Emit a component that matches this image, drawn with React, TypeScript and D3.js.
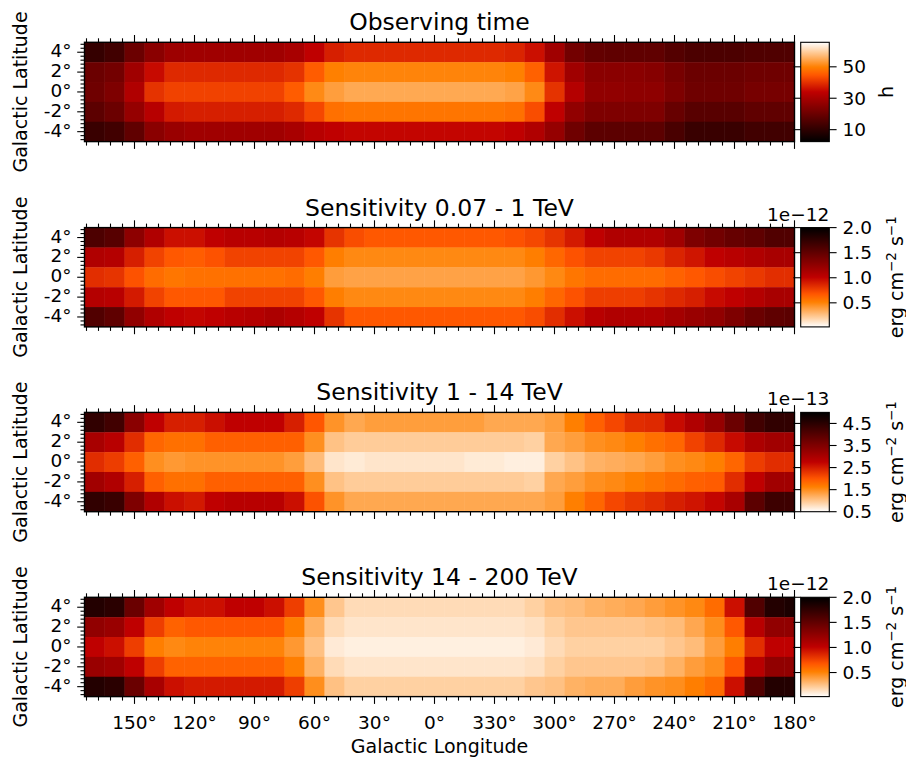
import React from 'react';
import * as d3 from 'd3';

// Cell centres (degrees) of the map
const longitudes = [170, 160, 150, 140, 130, 120, 110, 100, 90, 80, 70, 60, 50, 40, 30, 20, 10, 0, -10, -20, -30, -40, -50, -60, -70, -80, -90, -100, -110, -120, -130, -140, -150, -160, -170, -180];
const latitudes = [4, 2, 0, -2, -4];

const lonTicks = [150, 120, 90, 60, 30, 0, -30, -60, -90, -120, -150, -180];
const latTicks = [4, 2, 0, -2, -4];

// Observing time (h), rows = latitudes
const observingTime = [
  [11.2, 13.1, 20.1, 25.2, 28.3, 28.9, 28.9, 28.9, 28.9, 28.9, 30.2, 34.0, 37.8, 39.1, 39.1, 39.1, 39.1, 39.1, 39.1, 39.1, 39.1, 38.4, 35.9, 28.9, 21.4, 18.8, 18.2, 18.2, 18.2, 16.3, 15.0, 15.0, 15.0, 15.7, 15.7, 15.7],
  [20.1, 21.4, 28.9, 35.3, 39.1, 39.1, 39.1, 39.1, 39.1, 39.1, 40.3, 45.4, 49.8, 50.4, 50.4, 50.4, 50.4, 50.4, 50.4, 50.4, 50.4, 49.8, 46.0, 36.5, 28.9, 25.2, 25.2, 25.2, 24.5, 22.0, 20.1, 20.1, 20.1, 20.7, 20.7, 20.7],
  [20.7, 23.3, 31.5, 40.3, 42.2, 42.2, 42.2, 42.2, 42.2, 42.2, 45.4, 51.1, 53.6, 54.9, 54.9, 54.9, 54.9, 54.9, 54.9, 54.9, 54.9, 54.2, 51.1, 40.3, 32.1, 26.4, 26.4, 25.8, 25.8, 23.3, 20.7, 20.7, 20.7, 22.0, 22.0, 22.0],
  [17.6, 20.1, 27.0, 32.7, 37.2, 37.8, 37.8, 37.8, 37.8, 37.8, 39.1, 42.8, 47.9, 48.5, 48.5, 48.5, 48.5, 48.5, 48.5, 48.5, 48.5, 47.9, 43.5, 34.0, 26.4, 23.3, 23.3, 23.3, 23.3, 19.5, 16.9, 16.9, 16.9, 18.2, 18.2, 18.2],
  [11.9, 13.1, 18.2, 25.2, 27.7, 28.9, 28.9, 28.9, 28.9, 28.9, 30.2, 32.7, 34.0, 34.6, 34.6, 34.6, 34.6, 34.6, 34.6, 34.6, 34.6, 34.0, 31.5, 27.0, 20.7, 17.6, 17.6, 17.6, 17.6, 14.4, 11.9, 11.9, 11.9, 13.1, 13.1, 13.1],
];

// Sensitivity 0.07 - 1 TeV (1e-12 erg cm^-2 s^-1)
const sensLow = [
  [1.60, 1.55, 1.27, 1.09, 0.95, 0.95, 1.01, 1.05, 1.05, 1.07, 1.05, 0.99, 0.81, 0.71, 0.67, 0.67, 0.67, 0.67, 0.67, 0.67, 0.67, 0.69, 0.73, 0.81, 0.91, 1.01, 1.09, 1.09, 1.09, 1.17, 1.35, 1.41, 1.47, 1.51, 1.58, 1.58],
  [1.09, 1.07, 0.89, 0.75, 0.67, 0.65, 0.69, 0.75, 0.75, 0.75, 0.75, 0.67, 0.52, 0.48, 0.48, 0.48, 0.48, 0.48, 0.48, 0.48, 0.48, 0.48, 0.52, 0.61, 0.69, 0.75, 0.75, 0.75, 0.79, 0.87, 0.93, 1.01, 1.05, 1.09, 1.13, 1.13],
  [0.83, 0.81, 0.69, 0.59, 0.55, 0.57, 0.57, 0.57, 0.57, 0.57, 0.59, 0.52, 0.40, 0.38, 0.38, 0.38, 0.38, 0.38, 0.38, 0.38, 0.38, 0.38, 0.42, 0.48, 0.55, 0.59, 0.59, 0.59, 0.59, 0.63, 0.67, 0.71, 0.75, 0.79, 0.83, 0.83],
  [1.07, 1.05, 0.91, 0.75, 0.67, 0.67, 0.67, 0.75, 0.75, 0.75, 0.75, 0.67, 0.52, 0.48, 0.48, 0.48, 0.48, 0.48, 0.48, 0.48, 0.48, 0.48, 0.52, 0.61, 0.69, 0.77, 0.77, 0.77, 0.81, 0.85, 0.89, 0.97, 1.01, 1.07, 1.13, 1.13],
  [1.58, 1.51, 1.25, 1.09, 1.01, 0.99, 1.01, 1.05, 1.07, 1.11, 1.07, 1.01, 0.81, 0.67, 0.67, 0.67, 0.67, 0.67, 0.67, 0.67, 0.67, 0.67, 0.71, 0.83, 0.95, 1.05, 1.09, 1.09, 1.09, 1.15, 1.21, 1.25, 1.35, 1.45, 1.51, 1.53],
];

// Sensitivity 1 - 14 TeV (1e-13 erg cm^-2 s^-1)
const sensMid = [
  [4.42, 4.24, 3.38, 2.75, 2.48, 2.48, 2.62, 2.75, 2.75, 2.75, 2.48, 1.99, 1.45, 1.27, 1.36, 1.36, 1.36, 1.36, 1.36, 1.36, 1.27, 1.27, 1.27, 1.36, 1.63, 1.90, 2.12, 2.35, 2.39, 2.66, 2.93, 3.25, 3.74, 4.24, 4.42, 4.42],
  [3.02, 2.84, 2.35, 1.85, 1.76, 1.76, 1.90, 1.90, 1.90, 1.90, 1.90, 1.49, 1.04, 0.95, 0.95, 0.95, 0.95, 0.95, 0.95, 0.95, 0.95, 0.95, 0.91, 1.27, 1.36, 1.49, 1.54, 1.63, 1.76, 1.85, 2.17, 2.39, 2.66, 2.98, 3.11, 3.11],
  [2.35, 2.21, 1.90, 1.49, 1.40, 1.45, 1.45, 1.45, 1.45, 1.45, 1.36, 1.09, 0.73, 0.68, 0.73, 0.73, 0.73, 0.73, 0.73, 0.68, 0.68, 0.64, 0.64, 0.91, 1.04, 1.18, 1.22, 1.27, 1.36, 1.49, 1.54, 1.63, 1.85, 2.21, 2.35, 2.35],
  [3.11, 2.93, 2.48, 1.90, 1.76, 1.76, 1.90, 1.90, 1.90, 1.90, 1.90, 1.49, 1.04, 0.95, 0.95, 0.95, 0.95, 0.95, 0.95, 0.95, 0.95, 0.95, 0.91, 1.27, 1.36, 1.49, 1.54, 1.63, 1.72, 1.81, 1.90, 1.94, 2.35, 2.75, 3.11, 3.11],
  [4.42, 4.33, 3.52, 2.93, 2.62, 2.53, 2.75, 2.84, 2.84, 2.84, 2.62, 2.03, 1.45, 1.27, 1.27, 1.27, 1.27, 1.27, 1.27, 1.27, 1.27, 1.27, 1.27, 1.36, 1.63, 1.85, 2.12, 2.26, 2.35, 2.48, 2.57, 2.71, 3.02, 3.92, 4.28, 4.28],
];

// Sensitivity 14 - 200 TeV (1e-12 erg cm^-2 s^-1)
const sensHigh = [
  [1.82, 1.78, 1.45, 1.17, 1.01, 0.95, 0.95, 1.01, 1.01, 0.95, 0.77, 0.46, 0.24, 0.16, 0.16, 0.16, 0.16, 0.16, 0.16, 0.16, 0.16, 0.16, 0.20, 0.26, 0.28, 0.32, 0.34, 0.36, 0.40, 0.44, 0.48, 0.59, 0.95, 1.58, 1.82, 1.86],
  [1.25, 1.21, 1.01, 0.77, 0.63, 0.67, 0.67, 0.67, 0.67, 0.67, 0.52, 0.32, 0.16, 0.12, 0.12, 0.12, 0.12, 0.12, 0.12, 0.12, 0.12, 0.12, 0.14, 0.20, 0.24, 0.24, 0.24, 0.24, 0.26, 0.28, 0.36, 0.46, 0.67, 1.05, 1.25, 1.25],
  [1.01, 0.95, 0.77, 0.52, 0.48, 0.50, 0.50, 0.50, 0.50, 0.50, 0.42, 0.26, 0.10, 0.08, 0.08, 0.08, 0.08, 0.08, 0.08, 0.08, 0.08, 0.08, 0.10, 0.16, 0.20, 0.20, 0.20, 0.20, 0.20, 0.24, 0.28, 0.40, 0.52, 0.83, 1.01, 1.01],
  [1.21, 1.17, 1.01, 0.77, 0.63, 0.63, 0.63, 0.63, 0.63, 0.63, 0.52, 0.32, 0.16, 0.12, 0.12, 0.12, 0.12, 0.12, 0.12, 0.12, 0.12, 0.12, 0.14, 0.20, 0.24, 0.24, 0.24, 0.24, 0.26, 0.32, 0.40, 0.46, 0.67, 1.05, 1.25, 1.25],
  [1.82, 1.78, 1.45, 1.13, 0.95, 0.91, 0.91, 0.91, 0.91, 0.91, 0.77, 0.46, 0.26, 0.20, 0.20, 0.20, 0.20, 0.20, 0.20, 0.20, 0.20, 0.20, 0.24, 0.26, 0.32, 0.34, 0.34, 0.40, 0.44, 0.46, 0.52, 0.59, 0.95, 1.58, 1.82, 1.82],
];

const panelData = [observingTime, sensLow, sensMid, sensHigh];
const panelTitles = ['Observing time', 'Sensitivity 0.07 - 1 TeV', 'Sensitivity 1 - 14 TeV', 'Sensitivity 14 - 200 TeV'];
const colorDomains = [[2.4, 65.6], [0.02, 2.0], [0.5, 5.0], [0.02, 2.0]];
const colorTicks = [[10, 30, 50], [0.5, 1.0, 1.5, 2.0], [0.5, 1.5, 2.5, 3.5, 4.5], [0.5, 1.0, 1.5, 2.0]];
const colorTickFormats = ['d', '.1f', '.1f', '.1f'];
const offsetTexts = ['', '1e\u221212', '1e\u221213', '1e\u221212'];
const reversedMaps = [false, true, true, true];

const FONT = 'DejaVu Sans, sans-serif';
const W = 906;
const H = 758;
const AX_LEFT = 84.5;
const AX_RIGHT = 794.5;
const AX_H = 99.3;
const AX_TOPS = [42.3, 227.6, 412.4, 597.3];
const CB_LEFT = 800.7;
const CB_RIGHT = 829.3;
const TICK_FS = 18.5;

function gistHeat(t: number): string {
  const c = (v: number) => Math.max(0, Math.min(1, v));
  const r = c(1.5 * t);
  const g = c(2 * t - 1);
  const b = c(4 * t - 3);
  return d3.rgb(r * 255, g * 255, b * 255).formatHex();
}

const xScale = d3.scaleLinear().domain([175, -180]).range([AX_LEFT, AX_RIGHT]);
const lonLabel = (v: number) => `${((v % 360) + 360) % 360}\u00b0`;
const latLabel = (v: number) => `${v}\u00b0`;

function Panel({ index }: { index: number }) {
  const top = AX_TOPS[index];
  const bottom = top + AX_H;
  const yScale = d3.scaleLinear().domain([-5, 5]).range([bottom, top]);
  const dom = colorDomains[index];
  const rev = reversedMaps[index];
  const color = d3
    .scaleSequential((t: number) => gistHeat(rev ? 1 - t : t))
    .domain(dom as [number, number])
    .clamp(true);
  const cbScale = d3.scaleLinear().domain(dom).range([bottom, top]);
  const data = panelData[index];
  const clipId = `clip-${index}`;
  const gradId = `grad-${index}`;
  const fmt = d3.format(colorTickFormats[index]);
  const minorLon = d3.range(174, -181, -6).filter((v) => v % 30 !== 0);
  const minorLat = d3.range(-12, 13).filter((k) => k % 5 !== 0).map((k) => k * 0.4);
  const stops = d3.range(0, 65).map((i) => i / 64);
  const isLast = index === panelData.length - 1;
  const cbLabelX = index === 0 ? 893 : 903;
  const midY = (top + bottom) / 2;

  return (
    <g>
      <defs>
        <clipPath id={clipId}>
          <rect x={AX_LEFT} y={top} width={AX_RIGHT - AX_LEFT} height={AX_H} />
        </clipPath>
        <linearGradient id={gradId} x1="0" y1="1" x2="0" y2="0">
          {stops.map((s) => (
            <stop key={s} offset={s} stopColor={color(dom[0] + s * (dom[1] - dom[0]))} />
          ))}
        </linearGradient>
      </defs>
      <g clipPath={`url(#${clipId})`}>
        {data.map((row, ri) =>
          row.map((v, ci) => {
            const lon = longitudes[ci];
            const lat = latitudes[ri];
            const x0 = xScale(lon + 5);
            const x1 = xScale(lon - 5);
            const y0 = yScale(lat + 1);
            const y1 = yScale(lat - 1);
            return (
              <rect
                key={`${ri}-${ci}`}
                x={x0}
                y={y0}
                width={x1 - x0 + 0.4}
                height={y1 - y0 + 0.4}
                fill={color(v)}
              />
            );
          })
        )}
      </g>
      {/* frame */}
      <rect x={AX_LEFT} y={top} width={AX_RIGHT - AX_LEFT} height={AX_H} fill="none" stroke="#000" strokeWidth={1.4} />
      {/* x ticks bottom & top */}
      {lonTicks.map((t) => (
        <g key={`xt${t}`}>
          <line x1={xScale(t)} x2={xScale(t)} y1={bottom} y2={bottom + 7.3} stroke="#000" strokeWidth={1.1} />
          <line x1={xScale(t)} x2={xScale(t)} y1={top} y2={top - 7.3} stroke="#000" strokeWidth={1.1} />
        </g>
      ))}
      {minorLon.map((t) => (
        <g key={`xm${t}`}>
          <line x1={xScale(t)} x2={xScale(t)} y1={bottom} y2={bottom + 4} stroke="#000" strokeWidth={1.1} />
          <line x1={xScale(t)} x2={xScale(t)} y1={top} y2={top - 4} stroke="#000" strokeWidth={1.1} />
        </g>
      ))}
      {/* y ticks left */}
      {latTicks.map((t) => (
        <g key={`yt${t}`}>
          <line x1={AX_LEFT} x2={AX_LEFT - 7.3} y1={yScale(t)} y2={yScale(t)} stroke="#000" strokeWidth={1.1} />
          <text x={71.5} y={yScale(t) + 5} textAnchor="end" fontSize={TICK_FS} fontFamily={FONT}>
            {latLabel(t)}
          </text>
        </g>
      ))}
      {minorLat.map((t) => (
        <line key={`ym${t}`} x1={AX_LEFT} x2={AX_LEFT - 4} y1={yScale(t)} y2={yScale(t)} stroke="#000" strokeWidth={1.1} />
      ))}
      {isLast &&
        lonTicks.map((t) => (
          <text key={`xl${t}`} x={xScale(t)} y={728.5} textAnchor="middle" fontSize={TICK_FS} fontFamily={FONT}>
            {lonLabel(t)}
          </text>
        ))}
      {/* y label */}
      <text
        transform={`translate(26.5, ${midY}) rotate(-90)`}
        textAnchor="middle"
        fontSize={19}
        fontFamily={FONT}
      >
        Galactic Latitude
      </text>
      {/* title */}
      <text x={(AX_LEFT + AX_RIGHT) / 2} y={top - 12} textAnchor="middle" fontSize={23.5} fontFamily={FONT}>
        {panelTitles[index]}
      </text>
      {/* colorbar */}
      <rect x={CB_LEFT} y={top} width={CB_RIGHT - CB_LEFT} height={AX_H} fill={`url(#${gradId})`} />
      <rect x={CB_LEFT} y={top} width={CB_RIGHT - CB_LEFT} height={AX_H} fill="none" stroke="#000" strokeWidth={1.1} />
      {colorTicks[index].map((t) => (
        <g key={`ct${t}`}>
          <line x1={CB_RIGHT} x2={CB_RIGHT + 7.3} y1={cbScale(t)} y2={cbScale(t)} stroke="#000" strokeWidth={1.1} />
          <line x1={CB_LEFT} x2={CB_LEFT - 7.3} y1={cbScale(t)} y2={cbScale(t)} stroke="#000" strokeWidth={1.1} />
          <text x={842.5} y={cbScale(t) + 6.6} fontSize={TICK_FS} fontFamily={FONT}>
            {fmt(t)}
          </text>
        </g>
      ))}
      {offsetTexts[index] && (
        <text x={CB_RIGHT} y={top - 7} textAnchor="end" fontSize={TICK_FS} fontFamily={FONT}>
          {offsetTexts[index]}
        </text>
      )}
      {index === 0 ? (
        <text transform={`translate(${cbLabelX}, ${midY}) rotate(-90)`} textAnchor="middle" fontSize={19} fontFamily={FONT}>
          h
        </text>
      ) : (
        <text transform={`translate(${cbLabelX}, ${midY}) rotate(-90)`} textAnchor="middle" fontSize={19} fontFamily={FONT}>
          erg cm
          <tspan dy={-7} fontSize={13.5}>{'\u22122'}</tspan>
          <tspan dy={7}> s</tspan>
          <tspan dy={-7} fontSize={13.5}>{'\u22121'}</tspan>
        </text>
      )}
    </g>
  );
}

export default function App() {
  return (
    <svg
      width={W}
      height={H}
      viewBox={`0 0 ${W} ${H}`}
      style={{ position: 'absolute', left: 0, top: 0, background: '#fff' }}
    >
      <rect x={0} y={0} width={W} height={H} fill="#fff" />
      {panelData.map((_, i) => (
        <Panel key={i} index={i} />
      ))}
      <text x={(AX_LEFT + AX_RIGHT) / 2} y={753} textAnchor="middle" fontSize={19} fontFamily={FONT}>
        Galactic Longitude
      </text>
    </svg>
  );
}
